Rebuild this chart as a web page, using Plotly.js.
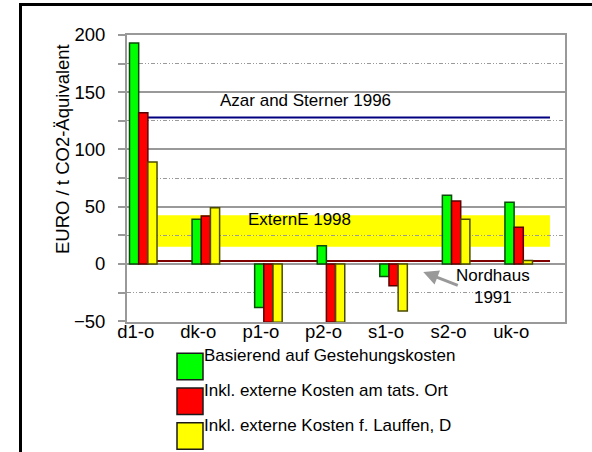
<!DOCTYPE html>
<html>
<head>
<meta charset="utf-8">
<script src="https://cdn.plot.ly/plotly-3.0.1.min.js"></script>
<style>html,body{margin:0;padding:0;background:#fff;overflow:hidden;}#chart{width:592px;height:452px;}</style>
</head>
<body>
<div id="chart"></div>
<script>
// ---- data ----
const categories = ['d1-o', 'dk-o', 'p1-o', 'p2-o', 's1-o', 's2-o', 'uk-o'];
const seriesNames = ['Basierend auf Gestehungskosten', 'Inkl. externe Kosten am tats. Ort', 'Inkl. externe Kosten f. Lauffen, D'];
const basisCosts = [193, 39, -38, 16, -11, 60, 54];
const extCostsLocal = [132, 42, -51, -51, -19, 55, 32];
const extCostsLauffen = [89, 49, -51, -51, -41, 39, 3];
const azarSterner1996 = 128;
const nordhaus1991 = 2.6;
const externE1998 = [15, 42.5];
const yTickVals = [-50, 0, 50, 100, 150, 200];
const yTitle = 'EURO / t CO2-Äquivalent';

// ---- styling ----
const FONT = 'Liberation Sans, Arial, sans-serif';
const fills = ['#00FF00', '#FF0000', '#FFFF00'];
const edges = ['#0a4a0a', '#5a0000', '#4a4a00'];
const L = 127, T = 35, W = 438, H = 287;
const px2x = px => (px - L) / W;
const py2y = py => (T + H - py) / H;

const groupOffset = 0.26;
const xs = categories.map((c, i) => i + groupOffset);
const seriesVals = [basisCosts, extCostsLocal, extCostsLauffen];

const traces = seriesVals.map((vals, k) => ({
  type: 'bar', x: xs, y: vals, name: seriesNames[k],
  marker: {color: fills[k], line: {color: edges[k], width: 1.5}},
  showlegend: false, hoverinfo: 'y'
}));

const lineStart = xs[0];
const lineEnd = xs[xs.length - 1] + 0.5;

const shapes = [
  {type: 'rect', xref: 'x', yref: 'y', x0: lineStart, x1: lineEnd, y0: externE1998[0], y1: externE1998[1],
   fillcolor: '#FFFF00', line: {width: 0}, layer: 'below'},
  {type: 'line', xref: 'x', yref: 'y', x0: lineStart, x1: lineEnd, y0: azarSterner1996, y1: azarSterner1996,
   line: {color: '#000080', width: 2}, layer: 'between'},
  {type: 'line', xref: 'x', yref: 'y', x0: lineStart, x1: lineEnd, y0: nordhaus1991, y1: nordhaus1991,
   line: {color: '#800000', width: 2}, layer: 'between'},
  // outer frame (only top and left edges fall inside the picture)
  {type: 'line', xref: 'paper', yref: 'paper', x0: px2x(19), x1: px2x(592), y0: py2y(4.5), y1: py2y(4.5),
   line: {color: '#000', width: 3}, layer: 'above'},
  {type: 'line', xref: 'paper', yref: 'paper', x0: px2x(20.5), x1: px2x(20.5), y0: py2y(3), y1: py2y(452),
   line: {color: '#000', width: 3}, layer: 'above'}
];

const annotations = [
  {xref: 'paper', yref: 'paper', x: px2x(62), y: py2y(149), xanchor: 'center', yanchor: 'middle',
   text: yTitle, textangle: -90, showarrow: false,
   font: {family: FONT, size: 18.5, color: '#000'}},
  {xref: 'x', yref: 'y', x: 2.845, y: 143, text: 'Azar and Sterner 1996', showarrow: false,
   font: {family: FONT, size: 17, color: '#000'}},
  {xref: 'x', yref: 'y', x: 2.75, y: 38.8, text: 'ExternE 1998', showarrow: false,
   font: {family: FONT, size: 17, color: '#000'}},
  {xref: 'x', yref: 'y', x: 5.845, y: -20, text: 'Nordhaus<br>1991', showarrow: false,
   font: {family: FONT, size: 17, color: '#000'}},
  {xref: 'x', yref: 'y', x: 4.735, y: -7, ax: 36, ay: 14, axref: 'pixel', ayref: 'pixel', text: '',
   showarrow: true, arrowhead: 2, arrowsize: 1, arrowwidth: 3, arrowcolor: '#999999'}
];

// custom legend with large swatches
seriesNames.forEach((name, k) => {
  const top = 353.3 + 34.7 * k;
  shapes.push({type: 'rect', xref: 'paper', yref: 'paper', x0: px2x(177), x1: px2x(203),
    y0: py2y(top + 26.5), y1: py2y(top), fillcolor: fills[k], line: {color: '#1a1a1a', width: 1.5}, layer: 'above'});
  annotations.push({xref: 'paper', yref: 'paper', x: px2x(202), y: py2y(top + 2.5), xanchor: 'left', yanchor: 'middle',
    text: name, showarrow: false, font: {family: FONT, size: 17, color: '#000'}});
});

const layout = {
  width: 592, height: 452,
  margin: {l: L, r: 592 - L - W, t: T, b: 452 - T - H, pad: 0},
  paper_bgcolor: '#fff', plot_bgcolor: '#fff',
  barmode: 'group', bargap: 0.56, bargroupgap: 0,
  showlegend: false,
  font: {family: FONT, size: 18.5, color: '#000'},
  xaxis: {
    range: [0, 7], tickmode: 'array', tickvals: categories.map((c, i) => i + 0.14), ticktext: categories,
    ticks: '', showgrid: false, zeroline: false, ticklabelstandoff: -8,
    showline: true, linecolor: '#999999', linewidth: 2, mirror: true,
    tickfont: {family: FONT, size: 18.5, color: '#000'}, fixedrange: true
  },
  xaxis2: {
    overlaying: 'x', anchor: 'y', side: 'bottom', range: [0, 7], tickmode: 'array',
    tickvals: categories.map((c, i) => i + 0.5), ticktext: categories.map(() => ''),
    ticks: 'inside', ticklen: 7, tickwidth: 2, tickcolor: '#999999', showticklabels: false,
    showgrid: false, zeroline: false, showline: false
  },
  yaxis: {
    range: [-50.7, 200], tickmode: 'array', tickvals: yTickVals,
    ticks: 'outside', ticklen: 7, tickwidth: 2, tickcolor: '#999999', ticklabelstandoff: 9,
    showgrid: true, gridcolor: '#999999', gridwidth: 2, zeroline: false,
    minor: {dtick: 25, tick0: 0, showgrid: true, gridcolor: '#9a9a9a', gridwidth: 1, griddash: '4px,2px,1px,2px,1px,2px',
            ticks: 'outside', ticklen: 7, tickwidth: 2, tickcolor: '#999999'},
    showline: true, linecolor: '#999999', linewidth: 2, mirror: true,
    tickfont: {family: FONT, size: 18.5, color: '#000'},
    fixedrange: true
  },
  shapes: shapes,
  annotations: annotations
};

Plotly.newPlot('chart', traces, layout, {displayModeBar: false, staticPlot: true});
</script>
</body>
</html>
